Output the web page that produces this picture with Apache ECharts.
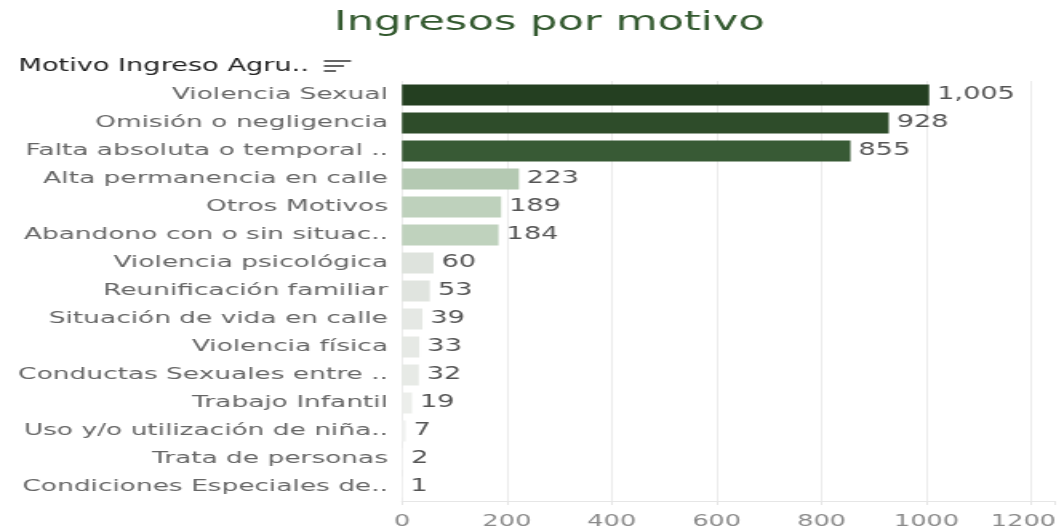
<!DOCTYPE html>
<html>
<head>
<meta charset="utf-8">
<script src="https://cdn.jsdelivr.net/npm/echarts@6/dist/echarts.min.js"></script>
<style>
  html, body { margin: 0; padding: 0; background: #ffffff; overflow: hidden; }
  #wrap { width: 1059px; height: 531px; overflow: hidden; }
  #chart { width: 662px; height: 531px; transform: scaleX(1.6); transform-origin: 0 0; }
</style>
</head>
<body>
<div id="wrap"><div id="chart"></div></div>
<script>
const chartTitle = 'Ingresos por motivo';
const headerText = 'Motivo Ingreso Agru..';
const categories = [
  'Violencia Sexual',
  'Omisión o negligencia',
  'Falta absoluta o temporal ..',
  'Alta permanencia en calle',
  'Otros Motivos',
  'Abandono con o sin situac..',
  'Violencia psicológica',
  'Reunificación familiar',
  'Situación de vida en calle',
  'Violencia física',
  'Conductas Sexuales entre ..',
  'Trabajo Infantil',
  'Uso y/o utilización de niña..',
  'Trata de personas',
  'Condiciones Especiales de..'
];
const values = [1005, 928, 855, 223, 189, 184, 60, 53, 39, 33, 32, 19, 7, 2, 1];
const barColors = [
  '#243f21', '#2e4c2a', '#385a35',
  '#b4c9b2', '#bed1bc', '#bfd2bd',
  '#dee3dd', '#e0e4df', '#e5e8e4', '#e6e9e5', '#e7eae6',
  '#eceeeb', '#f1f2f1', '#f4f4f4', '#f6f6f6'
];
const xTickValues = [0, 200, 400, 600, 800, 1000, 1200];

const FONT = 'DejaVu Sans';
const chart = echarts.init(document.getElementById('chart'));
const lastTick = xTickValues[xTickValues.length - 1];

const option = {
  backgroundColor: '#ffffff',
  animation: false,
  grid: { left: 251.25, right: 2.6, top: 81, bottom: 30, containLabel: false, outerBoundsMode: 'none' },
  xAxis: {
    type: 'value',
    min: 0,
    max: 1245,
    interval: 200,
    axisLine: { show: true, lineStyle: { color: '#e6e6e6', width: 1 } },
    axisTick: { show: true, length: 4, lineStyle: { color: '#e6e6e6' } },
    splitLine: { show: true, showMaxLine: false, lineStyle: { color: '#ececec', width: 1 } },
    axisLabel: {
      show: true,
      customValues: xTickValues,
      margin: 13,
      color: '#8a8a8a',
      fontSize: 16,
      fontFamily: FONT,
      hideOverlap: false,
      formatter: v => (v === lastTick ? '{last|' + v + '}' : String(v)),
      rich: {
        last: { color: '#8a8a8a', fontSize: 16, fontFamily: FONT, padding: [0, 10, 0, 0] }
      }
    }
  },
  yAxis: {
    type: 'category',
    inverse: true,
    data: categories,
    axisLine: { show: false },
    axisTick: { show: false },
    axisLabel: {
      margin: 8.75,
      color: '#666666',
      fontSize: 16.5,
      fontFamily: FONT
    }
  },
  series: [{
    type: 'bar',
    barWidth: 21,
    data: values.map((v, i) => ({ value: v, itemStyle: { color: barColors[i] } })),
    label: {
      show: true,
      position: 'right',
      distance: 5,
      color: '#555555',
      fontSize: 17,
      fontFamily: FONT,
      formatter: p => p.value.toLocaleString('en-US')
    }
  }],
  graphic: [
    {
      type: 'text', x: 343.4, y: 23,
      style: { text: chartTitle, fill: '#345a30', fontSize: 27, fontFamily: FONT, align: 'center', verticalAlign: 'middle' }
    },
    {
      type: 'text', x: 11.5, y: 67,
      style: { text: headerText, fill: '#222222', fontSize: 17, fontFamily: FONT, align: 'left', verticalAlign: 'middle' }
    },
    { type: 'rect', shape: { x: 202.5, y: 60, width: 16.9, height: 2 }, style: { fill: '#666666' } },
    { type: 'rect', shape: { x: 202.5, y: 65, width: 12.5, height: 2 }, style: { fill: '#666666' } },
    { type: 'rect', shape: { x: 202.5, y: 70, width: 7.5, height: 2 }, style: { fill: '#666666' } }
  ]
};
chart.setOption(option);
</script>
</body>
</html>
